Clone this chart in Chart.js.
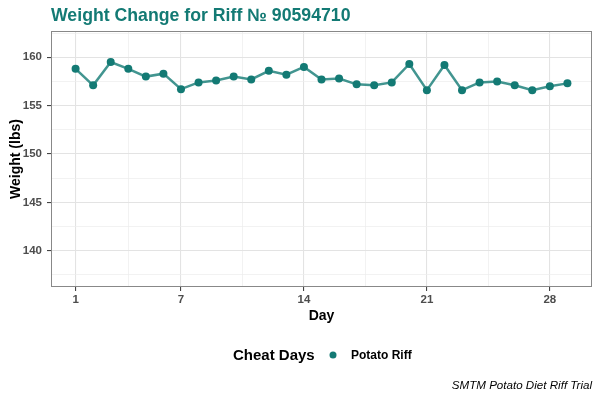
<!DOCTYPE html>
<html>
<head>
<meta charset="utf-8">
<script src="https://cdn.jsdelivr.net/npm/chart.js@4"></script>
<style>
  body { margin: 0; background: #fff; }
  canvas { display: block; }
</style>
</head>
<body>
<canvas id="weight_chart" width="600" height="400"></canvas>
<script>
const days = [1, 2, 3, 4, 5, 6, 7, 8, 9, 10, 11, 12, 13, 14, 15, 16, 17, 18, 19, 20, 21, 22, 23, 24, 25, 26, 27, 28, 29];
const weights = [158.8, 157.1, 159.5, 158.8, 158.0, 158.3, 156.7, 157.4, 157.6, 158.0, 157.7, 158.6, 158.2, 159.0, 157.7,
                 157.8, 157.2, 157.1, 157.4, 159.3, 156.6, 159.2, 156.6, 157.4, 157.5, 157.1, 156.6, 157.0, 157.3];
const xMajor = [1, 7, 14, 21, 28];
const xMinor = [4, 10.5, 17.5, 24.5];
const yMajor = [140, 145, 150, 155, 160];
const yMinor = [137.5, 142.5, 147.5, 152.5, 157.5, 162.5];

const FONT = "'Liberation Sans', Arial, sans-serif";
const TEAL = '#137a74';

function tickList(major, minor) {
    return major.concat(minor).sort((a, b) => a - b).map(v => ({ value: v }));
}

// grid styles shared by both axes
function gridFor(major) {
    return {
        color: ctx => major.includes(ctx.tick.value) ? '#e3e3e3' : '#ececec',
        lineWidth: ctx => major.includes(ctx.tick.value) ? 1.1 : 0.7,
        tickColor: ctx => major.includes(ctx.tick.value) ? '#444' : 'rgba(0,0,0,0)',
        tickLength: 4,
    };
}

// title, legend, caption and panel border
const extras = {
    id: 'extras',
    afterDraw(chart) {
        const ctx = chart.ctx;
        const a = chart.chartArea;
        ctx.save();
        ctx.strokeStyle = '#888';
        ctx.lineWidth = 1;
        ctx.strokeRect(a.left + 0.5, a.top + 0.5, a.right - a.left - 1, a.bottom - a.top - 1);

        ctx.fillStyle = TEAL;
        ctx.font = 'bold 17.7px ' + FONT;
        ctx.textAlign = 'left';
        ctx.textBaseline = 'alphabetic';
        ctx.fillText('Weight Change for Riff № 90594710', a.left, 21);

        ctx.textBaseline = 'middle';
        ctx.fillStyle = '#000';
        ctx.font = 'bold 15px ' + FONT;
        ctx.fillText('Cheat Days', 233, 356);
        ctx.fillStyle = TEAL;
        ctx.beginPath();
        ctx.arc(333, 355, 3.5, 0, Math.PI * 2);
        ctx.fill();
        ctx.fillStyle = '#000';
        ctx.font = 'bold 12px ' + FONT;
        ctx.fillText('Potato Riff', 351, 356);

        ctx.font = 'italic 11.6px ' + FONT;
        ctx.textAlign = 'right';
        ctx.fillText('SMTM Potato Diet Riff Trial', a.right, 386);
        ctx.restore();
    }
};

const chart = new Chart(document.getElementById('weight_chart'),
    {
        type: 'line',
        data:
        {
            datasets:
            [{
                label: 'Potato Riff',
                data: days.map((d, i) => ({ x: d, y: weights[i] })),
                borderColor: 'rgba(19, 122, 116, 0.8)',
                borderWidth: 2.5,
                pointBackgroundColor: TEAL,
                pointBorderWidth: 0,
                pointRadius: 4,
                tension: 0,
            }]
        },
        options:
        {
            responsive: false,
            animation: false,
            layout: { padding: { top: 31, right: 8, bottom: 73, left: 0 } },
            scales:
            {
                x:
                {
                    type: 'linear',
                    min: -0.4,
                    max: 30.4,
                    afterBuildTicks: s => { s.ticks = tickList(xMajor, xMinor); },
                    afterFit: s => { s.height = 40; },
                    ticks:
                    {
                        autoSkip: false,
                        maxRotation: 0,
                        padding: 2,
                        color: '#4d4d4d',
                        font: { family: FONT, size: 11.5, weight: 'bold' },
                        callback: v => xMajor.includes(v) ? String(v) : '',
                    },
                    grid: gridFor(xMajor),
                    border: { display: false },
                    title:
                    {
                        display: true,
                        text: 'Day',
                        color: '#000',
                        font: { family: FONT, size: 14, weight: 'bold' },
                        padding: { top: 2, bottom: 2 },
                    }
                },
                y:
                {
                    min: 136.26,
                    max: 162.71,
                    afterBuildTicks: s => { s.ticks = tickList(yMajor, yMinor); },
                    afterFit: s => { s.width = 51; },
                    ticks:
                    {
                        autoSkip: false,
                        padding: 5,
                        color: '#4d4d4d',
                        font: { family: FONT, size: 11.5, weight: 'bold' },
                        callback: v => yMajor.includes(v) ? String(v) : '',
                    },
                    grid: gridFor(yMajor),
                    border: { display: false },
                    title:
                    {
                        display: true,
                        text: 'Weight (lbs)',
                        color: '#000',
                        font: { family: FONT, size: 14, weight: 'bold' },
                        padding: { top: 8, bottom: 2 },
                    }
                }
            },
            plugins:
            {
                legend: { display: false },
                title: { display: false },
                tooltip: { enabled: false },
            },
        },
        plugins: [extras]
    })
</script>
</body>
</html>
